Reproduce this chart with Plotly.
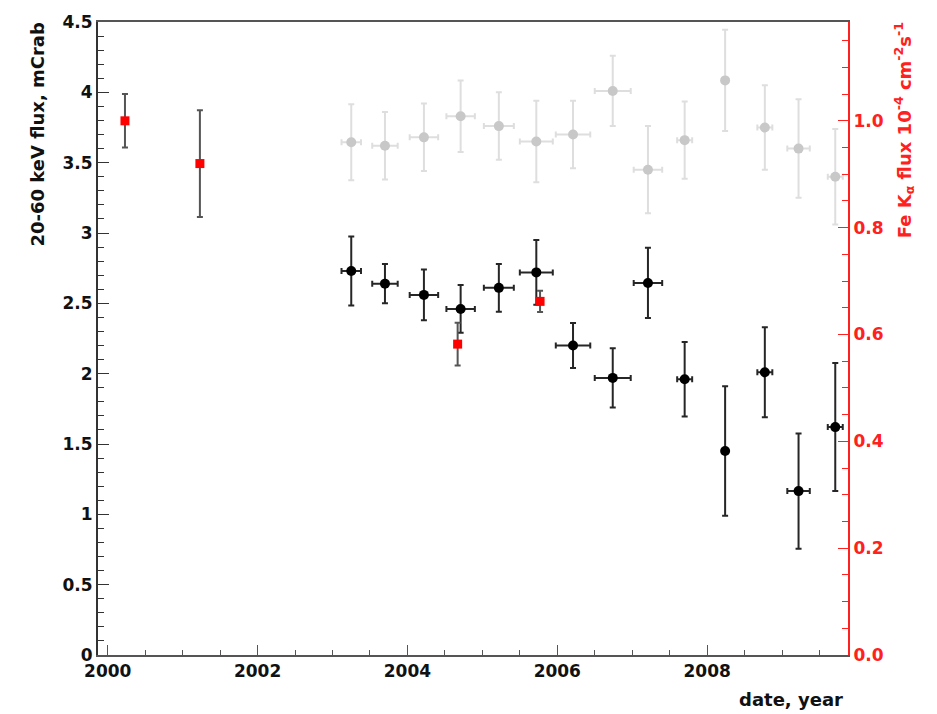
import plotly.graph_objects as go

# ---- data ----
years = [2003.25, 2003.70, 2004.22, 2004.71, 2005.22, 2005.72, 2006.21,
         2006.74, 2007.21, 2007.70, 2008.24, 2008.77, 2009.22, 2009.71]
year_err = [0.13, 0.17, 0.19, 0.19, 0.20, 0.22, 0.23,
            0.24, 0.19, 0.10, 0.03, 0.10, 0.15, 0.10]

flux_black = [2.73, 2.64, 2.56, 2.46, 2.61, 2.72, 2.20,
              1.97, 2.645, 1.96, 1.45, 2.01, 1.165, 1.62]
flux_black_err = [0.245, 0.14, 0.18, 0.17, 0.17, 0.23, 0.16,
                  0.21, 0.25, 0.265, 0.46, 0.32, 0.41, 0.455]

flux_grey = [3.645, 3.62, 3.68, 3.83, 3.76, 3.65, 3.70,
             4.01, 3.45, 3.66, 4.085, 3.75, 3.60, 3.40]
flux_grey_err = [0.27, 0.24, 0.24, 0.255, 0.24, 0.29, 0.24,
                 0.25, 0.31, 0.275, 0.36, 0.30, 0.35, 0.34]

fe_years = [2000.23, 2001.23, 2004.67, 2005.77]
fe_flux = [1.00, 0.92, 0.582, 0.662]
fe_flux_err = [0.05, 0.10, 0.04, 0.02]

x_tickvals = [2000, 2002, 2004, 2006, 2008]
x_ticktext = ["2000", "2002", "2004", "2006", "2008"]
y_tickvals = [0, 0.5, 1, 1.5, 2, 2.5, 3, 3.5, 4, 4.5]
y_ticktext = ["0", "0.5", "1", "1.5", "2", "2.5", "3", "3.5", "4", "4.5"]
y2_tickvals = [0.0, 0.2, 0.4, 0.6, 0.8, 1.0]
y2_ticktext = ["0.0", "0.2", "0.4", "0.6", "0.8", "1.0"]

FONT = "DejaVu Sans"
RED = "#ff2020"

fig = go.Figure()

fig.add_trace(go.Scatter(
    x=years, y=flux_grey, mode="markers",
    marker=dict(color="#c8c8c8", size=10, symbol="circle"),
    error_y=dict(type="data", array=flux_grey_err, color="#dedede", thickness=2, width=3),
    error_x=dict(type="data", array=year_err, color="#dedede", thickness=2, width=3),
    showlegend=False, yaxis="y"))

fig.add_trace(go.Scatter(
    x=years, y=flux_black, mode="markers",
    marker=dict(color="black", size=10, symbol="circle"),
    error_y=dict(type="data", array=flux_black_err, color="#262626", thickness=2, width=3),
    error_x=dict(type="data", array=year_err, color="#262626", thickness=2, width=3),
    showlegend=False, yaxis="y"))

fig.add_trace(go.Scatter(
    x=fe_years, y=fe_flux, mode="markers",
    marker=dict(color="#ff0000", size=9, symbol="square"),
    error_y=dict(type="data", array=fe_flux_err, color="#555555", thickness=2, width=3),
    showlegend=False, yaxis="y2"))

tickfont = dict(family=FONT, size=17, color="#111", weight="bold")

fig.update_layout(
    width=937, height=714,
    margin=dict(l=98, r=89, t=15, b=59),
    paper_bgcolor="white", plot_bgcolor="white",
    xaxis=dict(range=[1999.87, 2009.88], showgrid=False, zeroline=False,
               showline=True, linecolor="#555", linewidth=2, mirror=True,
               ticks="inside", ticklen=10, tickwidth=1, tickcolor="#555",
               tickvals=x_tickvals, ticktext=x_ticktext, tickfont=tickfont,
               minor=dict(dtick=0.5, tick0=2000, ticks="inside", ticklen=5, tickcolor="#555")),
    yaxis=dict(range=[0, 4.5], showgrid=False, zeroline=False,
               showline=True, linecolor="#333", linewidth=2,
               ticks="inside", ticklen=11, tickwidth=1, tickcolor="#333",
               tickvals=y_tickvals, ticktext=y_ticktext, tickfont=tickfont,
               minor=dict(dtick=0.1, tick0=0, ticks="inside", ticklen=6, tickcolor="#333")),
    yaxis2=dict(range=[0, 1.185], overlaying="y", side="right", anchor="x",
                showgrid=False, zeroline=False,
                showline=True, linecolor=RED, linewidth=2,
                ticks="inside", ticklen=10, tickwidth=1, tickcolor=RED,
                tickvals=y2_tickvals, ticktext=y2_ticktext,
                tickfont=dict(family=FONT, size=17, color=RED, weight="bold"),
                minor=dict(dtick=0.05, tick0=0, ticks="inside", ticklen=6, tickcolor=RED)),
    annotations=[
        dict(text="20-60 keV flux, mCrab", xref="paper", yref="paper",
             x=-0.08, y=1.003, xanchor="center", yanchor="top", textangle=-90,
             showarrow=False, font=dict(family=FONT, size=18, color="#111", weight="bold")),
        dict(text="Fe K<sub>α</sub> flux 10<sup>-4</sup> cm<sup>-2</sup>s<sup>-1</sup>",
             xref="paper", yref="paper",
             x=1.075, y=1.003, xanchor="center", yanchor="top", textangle=-90,
             showarrow=False, font=dict(family=FONT, size=18, color=RED, weight="bold")),
        dict(text="date, year", xref="paper", yref="paper",
             x=0.996, y=-0.07, xanchor="right", yanchor="middle",
             showarrow=False, font=dict(family=FONT, size=18, color="#111", weight="bold")),
    ],
)

fig.write_html("out.html")
